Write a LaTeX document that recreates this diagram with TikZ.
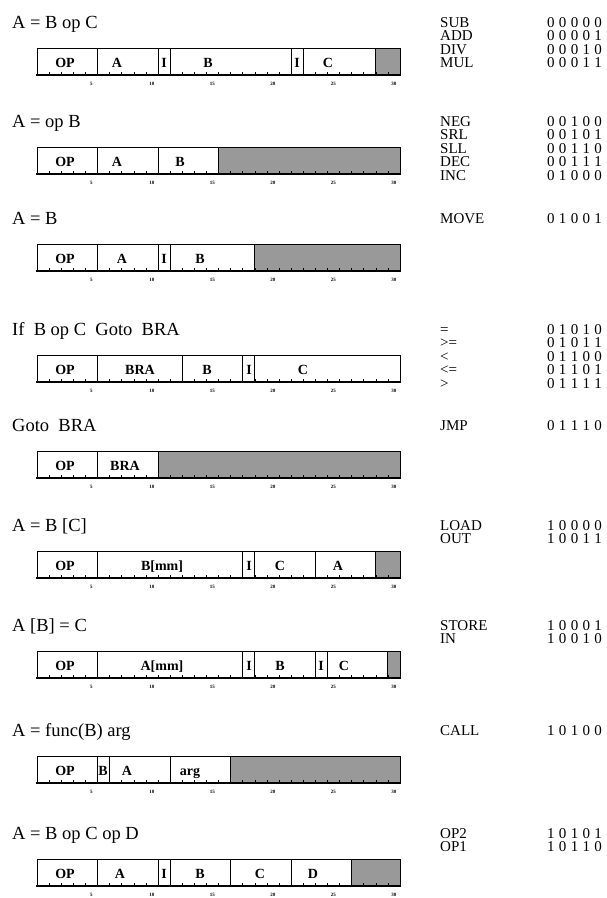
\documentclass[tikz,border=0pt]{standalone}
\usepackage{fontspec}
\setmainfont{Liberation Serif}
\tikzset{
  ttl/.style={anchor=base west,inner sep=0pt,font=\fontsize{18.5}{20}\selectfont},
  fld/.style={anchor=base,inner sep=0pt,font=\fontsize{14}{15}\selectfont\bfseries},
  bitnum/.style={anchor=base,inner sep=0pt,font=\fontsize{5}{5}\selectfont\bfseries},
  opn/.style={anchor=base west,inner sep=0pt,font=\fontsize{15}{16}\selectfont},
  stip/.style={fill=black!40},
  barframe/.style={draw=black,line width=0.8pt},
  bbase/.style={draw=black,line width=1.5pt},
  div/.style={draw=black,line width=1pt},
  btick/.style={draw=black,line width=0.6pt}
}
\newcommand\kk{\kern4.3pt}
\newcommand\instrow[6]{%
  \node[ttl] (t#1) at (12,#2+6) {#3};
  \pgfmathsetmacro\yt{#2+26}%
  \pgfmathsetmacro\yb{#2+53}%
  \ifnum#4<30 \fill[stip] ({37+12.1*#4},\yt) rectangle (400,\yb);\fi
  \draw[barframe] (37,\yt) rectangle (400,\yb);
  \draw[bbase] (36.4,\yb) -- (400.6,\yb);
  \draw[div] (400,\yt) -- (400,\yb);
  \foreach \d in {#5} \draw[div] ({37+12.1*\d},\yt) -- ({37+12.1*\d},\yb);
  \foreach \b in {1,...,29} \draw[btick] ({37+12.1*\b},\yb) -- ++(0,-3);
  \foreach \lx/\lt [count=\i] in {#6} \node[fld] (f#1-\i) at (\lx,\yb-8) {\lt};
  \foreach \n in {5,10,...,30} \node[bitnum] (s#1-\n) at ({37+12.1*(\n-0.5)},\yb+10) {\n};
}
\newcommand\opline[4]{%
  \node[opn] (n#1) at (440,#2+5) {#3};
  \node[opn] (c#1) at (547,#2+5) {#4};
}
\begin{document}
\begin{tikzpicture}[x=1pt,y=-1pt]
\useasboundingbox (0,0) rectangle (606,898);
\instrow{1}{22}{A = B op C}{28}{5,10,11,21,22,28}{65/OP,117/A,164/I,208/B,297/I,328/C}
\instrow{2}{121}{A = op B}{15}{5,10,15}{65/OP,117/A,180/B}
\instrow{3}{218}{A = B}{18}{5,10,11,18}{65/OP,122/A,164/I,200/B}
\instrow{4}{329}{If\ \ B op C\ \ Goto\ \ BRA}{30}{5,12,17,18}{65/OP,140/BRA,207/B,249/I,303/C}
\instrow{5}{425}{Goto\ \ BRA}{10}{5,10}{65/OP,125/BRA}
\instrow{6}{525}{A = B [C]}{28}{5,17,18,23,28}{65/OP,162/{B[mm]},249/I,280/C,338/A}
\instrow{7}{625}{A [B] = C}{29}{5,17,18,23,24,29}{65/OP,162/{A[mm]},249/I,280/B,321/I,344/C}
\instrow{8}{730}{A = func(B) arg}{16}{5,6,11,16}{65/OP,103/B,127/A,190/arg}
\instrow{9}{833}{A = B op C op D}{26}{5,10,11,16,21,26}{65/OP,120/A,164/I,200/B,260/C,313/D}
% opcode table
\opline{a}{22}{SUB}{0\kk0\kk0\kk0\kk0}
\opline{b}{35.5}{ADD}{0\kk0\kk0\kk0\kk1}
\opline{c}{49}{DIV}{0\kk0\kk0\kk1\kk0}
\opline{d}{62.5}{MUL}{0\kk0\kk0\kk1\kk1}
\opline{e}{121}{NEG}{0\kk0\kk1\kk0\kk0}
\opline{f}{134.5}{SRL}{0\kk0\kk1\kk0\kk1}
\opline{g}{148}{SLL}{0\kk0\kk1\kk1\kk0}
\opline{h}{161.5}{DEC}{0\kk0\kk1\kk1\kk1}
\opline{i}{175}{INC}{0\kk1\kk0\kk0\kk0}
\opline{j}{218}{MOVE}{0\kk1\kk0\kk0\kk1}
\opline{k}{329}{=}{0\kk1\kk0\kk1\kk0}
\opline{l}{342.5}{>=}{0\kk1\kk0\kk1\kk1}
\opline{m}{356}{<}{0\kk1\kk1\kk0\kk0}
\opline{n}{369.5}{<=}{0\kk1\kk1\kk0\kk1}
\opline{o}{383}{>}{0\kk1\kk1\kk1\kk1}
\opline{p}{425}{JMP}{0\kk1\kk1\kk1\kk0}
\opline{q}{525}{LOAD}{1\kk0\kk0\kk0\kk0}
\opline{r}{538.5}{OUT}{1\kk0\kk0\kk1\kk1}
\opline{s}{625}{STORE}{1\kk0\kk0\kk0\kk1}
\opline{t}{638.5}{IN}{1\kk0\kk0\kk1\kk0}
\opline{u}{730}{CALL}{1\kk0\kk1\kk0\kk0}
\opline{v}{833}{OP2}{1\kk0\kk1\kk0\kk1}
\opline{w}{846.5}{OP1}{1\kk0\kk1\kk1\kk0}
\end{tikzpicture}
\end{document}
